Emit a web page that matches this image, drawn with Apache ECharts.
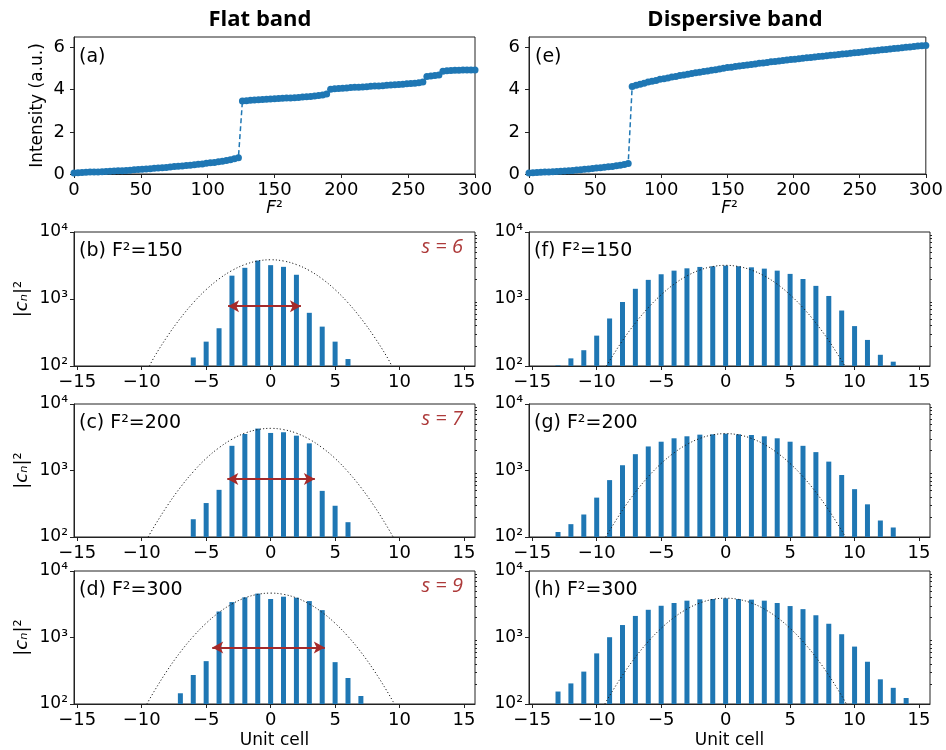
<!DOCTYPE html>
<html>
<head>
<meta charset="utf-8">
<script src="https://cdn.jsdelivr.net/npm/echarts@6/dist/echarts.min.js"></script>
<style>
html, body { margin: 0; padding: 0; background: #fff; }
#chart { width: 946px; height: 750px; }
</style>
</head>
<body>
<div id="chart"></div>
<script>
// ---- intensity vs F^2 (top row) ----
const f2 = [0,3,6,9,12,15,18,21,24,27,30,33,36,39,42,45,48,51,54,57,60,63,66,69,72,75,78,81,84,87,90,93,96,99,
  102,105,108,111,114,117,120,123,126,129,132,135,138,141,144,147,150,153,156,159,162,165,168,171,174,177,180,183,186,189,
  192,195,198,201,204,207,210,213,216,219,222,225,228,231,234,237,240,243,246,249,252,255,258,261,264,267,270,273,276,279,
  282,285,288,291,294,297,300];
const intensityFlat = [0.05,0.06,0.07,0.08,0.09,0.09,0.10,0.11,0.12,0.13,0.14,0.15,0.16,0.17,0.18,0.20,0.21,0.22,0.24,0.25,
  0.27,0.28,0.30,0.31,0.33,0.35,0.37,0.38,0.40,0.42,0.44,0.46,0.48,0.51,0.53,0.55,0.58,0.61,0.64,0.68,0.72,0.77,
  3.46,3.48,3.50,3.51,3.52,3.53,3.55,3.56,3.57,3.58,3.59,3.60,3.61,3.62,3.63,3.65,3.66,3.68,3.70,3.72,3.75,3.80,
  4.02,4.04,4.06,4.07,4.08,4.10,4.11,4.12,4.13,4.14,4.16,4.17,4.18,4.19,4.21,4.22,4.23,4.25,4.26,4.28,4.29,4.31,4.33,4.37,
  4.62,4.65,4.67,4.70,4.88,4.90,4.91,4.92,4.92,4.93,4.93,4.94,4.94];
const intensityDisp = [0.05,0.06,0.07,0.08,0.09,0.10,0.11,0.12,0.13,0.14,0.16,0.17,0.19,0.20,0.22,0.24,0.26,0.28,0.30,0.32,
  0.34,0.36,0.39,0.42,0.45,0.50,
  4.15,4.21,4.26,4.31,4.36,4.40,4.44,4.49,4.52,4.56,4.60,4.63,4.67,4.70,4.73,4.77,4.80,4.83,4.86,4.89,4.92,4.95,4.98,5.02,
  5.05,5.07,5.10,5.12,5.15,5.17,5.20,5.22,5.25,5.27,5.29,5.32,5.34,5.36,5.39,5.41,5.43,5.45,5.47,5.49,5.51,5.53,5.55,5.57,
  5.59,5.61,5.63,5.65,5.67,5.69,5.71,5.73,5.75,5.77,5.79,5.81,5.83,5.85,5.87,5.89,5.91,5.93,5.95,5.97,5.99,6.01,6.03,6.05,
  6.07,6.08,6.10];
const intensityTicks = [0, 2, 4, 6];

// ---- |c_n|^2 per unit cell ----
const cells13 = [-6,-5,-4,-3,-2,-1,0,1,2,3,4,5,6];
const cells15 = [-7,-6,-5,-4,-3,-2,-1,0,1,2,3,4,5,6,7];
const cells27 = [-13,-12,-11,-10,-9,-8,-7,-6,-5,-4,-3,-2,-1,0,1,2,3,4,5,6,7,8,9,10,11,12,13];
const cells28 = [-13,-12,-11,-10,-9,-8,-7,-6,-5,-4,-3,-2,-1,0,1,2,3,4,5,6,7,8,9,10,11,12,13,14];

const popB = [134,231,366,2230,2920,3750,3200,3020,2300,622,387,231,127];
const popC = [185,324,512,2350,3540,4270,3670,3760,3340,2560,494,295,167];
const popD = [145,273,441,2460,3410,4020,4570,3790,4110,3970,3530,2580,426,246,132];
const popF = [102,130,172,284,512,903,1420,1930,2340,2650,2870,3010,3080,3150,3080,2970,2840,2650,2370,1990,1570,1110,673,394,245,147,116];
const popG = [119,156,218,391,717,1200,1760,2300,2710,3050,3270,3460,3500,3580,3500,3420,3270,3050,2710,2350,1890,1360,855,524,310,177,139];
const popH = [154,204,307,577,1010,1540,2110,2610,3000,3300,3580,3750,3790,3880,3790,3710,3580,3300,2970,2670,2160,1610,1120,730,432,235,175,123];

// dotted envelope curves
const envXB = [-9.4,-9,-8,-7,-6,-5,-4,-3,-2,-1,0,1,2,3,4,5,6,7,8,9,9.4];
const envYB = [100,139,279,516,879,1380,1995,2660,3265,3690,3850,3690,3265,2660,1995,1380,879,516,279,139,100];
const envXC = [-9.5,-9,-8,-7,-6,-5,-4,-3,-2,-1,0,1,2,3,4,5,6,7,8,9,9.5];
const envYC = [100,147,298,557,957,1520,2200,2950,3640,4120,4300,4120,3640,2950,2200,1520,957,557,298,147,100];
const envXD = [-9.6,-9,-8,-7,-6,-5,-4,-3,-2,-1,0,1,2,3,4,5,6,7,8,9,9.6];
const envYD = [100,159,323,604,1037,1640,2385,3190,3935,4455,4650,4455,3935,3190,2385,1640,1037,604,323,159,100];
const envXF = [-9.25,-9,-8,-7,-6,-5,-4,-3,-2,-1,0,1,2,3,4,5,6,7,8,9,9.25];
const envYF = [100,120,239,438,741,1155,1665,2210,2705,3050,3180,3050,2705,2210,1665,1155,741,438,239,120,100];
const envXG = [-9.3,-9,-8,-7,-6,-5,-4,-3,-2,-1,0,1,2,3,4,5,6,7,8,9,9.3];
const envYG = [100,125,253,471,808,1273,1845,2466,3036,3436,3580,3436,3036,2466,1845,1273,808,471,253,125,100];
const envXH = [-9.37,-9,-8,-7,-6,-5,-4,-3,-2,-1,0,1,2,3,4,5,6,7,8,9,9.37];
const envYH = [100,133,270,505,869,1374,2000,2680,3303,3741,3900,3741,3303,2680,2000,1374,869,505,270,133,100];

// width arrows: [from, to, level]
const arrowB = [-3.3, 2.35, 780];
const arrowC = [-3.36, 3.43, 745];
const arrowD = [-4.53, 4.2, 705];

const logTicks = [100, 1000, 10000];
const logMinor = [200,300,400,500,600,700,800,900,2000,3000,4000,5000,6000,7000,8000,9000];
const cellTicks = [-15, -10, -5, 0, 5, 10, 15];

// ---- layout ----
const COL_X = [74, 529];
const COL_W = 401;
const ROW_TOP = [37, 232, 404, 571];
const ROW_H = [137, 134, 133, 133];
const FONT = 'DejaVu Sans';
const BLUE = '#1f77b4';
const RED = '#a52a2a';
const FRAME = '#222';

const grids = [], xAxes = [], yAxes = [], series = [];

const axisBase = () => ({
    axisLine: { show: true, onZero: false, lineStyle: { color: FRAME, width: 1 } },
    axisTick: { show: true, length: 4, lineStyle: { color: FRAME, width: 1 } },
    axisLabel: { color: '#000', fontFamily: FONT, fontSize: 18, margin: 7 },
    splitLine: { show: false }
});

function addGrid(col, row) {
    grids.push({
        left: COL_X[col], top: ROW_TOP[row], width: COL_W, height: ROW_H[row],
        show: true, borderColor: FRAME, borderWidth: 1
    });
    return grids.length - 1;
}

function intensityPanel(col, yVals) {
    const g = addGrid(col, 0);
    xAxes.push(Object.assign(axisBase(), { gridIndex: g, type: 'value', min: 0, max: 300, interval: 50 }));
    const y = axisBase();
    y.axisLabel.customValues = intensityTicks;
    y.axisLabel.margin = 9;
    y.axisTick.customValues = intensityTicks;
    yAxes.push(Object.assign(y, { gridIndex: g, type: 'value', min: 0, max: 6.5 }));
    series.push({
        type: 'line',
        xAxisIndex: xAxes.length - 1, yAxisIndex: yAxes.length - 1,
        data: f2.map((x, i) => [x, yVals[i]]),
        symbol: 'circle', symbolSize: 7,
        itemStyle: { color: BLUE },
        lineStyle: { color: BLUE, width: 1.5, type: [5, 3] },
        silent: true
    });
}

function cellPanel(col, row, cells, pop, envX, envY, arrow) {
    const g = addGrid(col, row);
    const x = axisBase();
    x.axisLabel.customValues = cellTicks;
    x.axisLabel.formatter = v => String(v).replace('-', '\u2212');
    x.axisTick.customValues = cellTicks;
    xAxes.push(Object.assign(x, { gridIndex: g, type: 'value', min: -15.25, max: 15.85 }));
    const xi = xAxes.length - 1;

    const y = axisBase();
    y.axisLabel.customValues = logTicks;
    y.axisLabel.fontSize = 17;
    y.axisLabel.margin = 6;
    y.axisLabel.formatter = v => ({ 100: '10\u00b2', 1000: '10\u00b3', 10000: '10\u2074' })[v] || '';
    y.axisTick.customValues = logTicks;
    yAxes.push(Object.assign(y, { gridIndex: g, type: 'log', logBase: 10, min: 100, max: 10000 }));
    const yi = yAxes.length - 1;

    // minor ticks of the log axis
    yAxes.push({
        gridIndex: g, type: 'log', logBase: 10, min: 100, max: 10000,
        axisLine: { show: false, onZero: false },
        axisLabel: { show: false },
        axisTick: { show: true, length: 2, customValues: logMinor, lineStyle: { color: FRAME } },
        splitLine: { show: false }
    });

    const bar = {
        type: 'bar', xAxisIndex: xi, yAxisIndex: yi,
        data: cells.map((n, i) => [n, pop[i]]),
        barWidth: 5, clip: true,
        itemStyle: { color: BLUE },
        silent: true
    };
    if (arrow) {
        bar.markLine = {
            silent: true, animation: false,
            symbol: ['arrow', 'arrow'], symbolSize: [9, 11],
            label: { show: false },
            lineStyle: { color: RED, width: 2, type: 'solid' },
            data: [[{ coord: [arrow[0], arrow[2]] }, { coord: [arrow[1], arrow[2]] }]]
        };
    }
    series.push(bar);
    series.push({
        type: 'line', xAxisIndex: xi, yAxisIndex: yi,
        data: envX.map((v, i) => [v, envY[i]]),
        showSymbol: false, smooth: 0.4, silent: true,
        lineStyle: { color: '#222', width: 1, type: [1.2, 2.2] }
    });
}

intensityPanel(0, intensityFlat);
intensityPanel(1, intensityDisp);
cellPanel(0, 1, cells13, popB, envXB, envYB, arrowB);
cellPanel(0, 2, cells13, popC, envXC, envYC, arrowC);
cellPanel(0, 3, cells15, popD, envXD, envYD, arrowD);
cellPanel(1, 1, cells27, popF, envXF, envYF, null);
cellPanel(1, 2, cells27, popG, envXG, envYG, null);
cellPanel(1, 3, cells28, popH, envXH, envYH, null);

// ---- texts ----
const texts = [];
function txt(x, y, text, style, rotation) {
    texts.push({
        type: 'text', x: x, y: y, rotation: rotation || 0, z: 100, silent: true,
        style: Object.assign({ text: text, fill: '#000', fontFamily: FONT, fontSize: 18, align: 'left', verticalAlign: 'middle' }, style)
    });
}

const colMid = c => COL_X[c] + COL_W / 2;
const rowMid = r => ROW_TOP[r] + ROW_H[r] / 2;

txt(260, 20, 'Flat band', { fontFamily: 'Open Sans', fontWeight: 'bold', fontSize: 22, align: 'center' });
txt(735, 20, 'Dispersive band', { fontFamily: 'Open Sans', fontWeight: 'bold', fontSize: 22, align: 'center' });

txt(79, 57, '(a)', { fontSize: 19 });
txt(535, 57, '(e)', { fontSize: 19 });
const panelTags = [['(b) F\u00b2=150', '(c) F\u00b2=200', '(d) F\u00b2=300'], ['(f) F\u00b2=150', '(g) F\u00b2=200', '(h) F\u00b2=300']];
const sizeTags = ['s = 6', 's = 7', 's = 9'];
[0, 1].forEach(c => {
    panelTags[c].forEach((t, k) => txt(COL_X[c] + 5, ROW_TOP[k + 1] + 19, t, { fontSize: 19 }));
    txt(colMid(c), 209, '{i|F}\u00b2', { align: 'center', fontSize: 17, rich: { i: { fontStyle: 'italic', fontFamily: FONT, fontSize: 17 } } });
    txt(colMid(c), 741, 'Unit cell', { align: 'center', fontSize: 17 });
});
sizeTags.forEach((t, k) => txt(463, ROW_TOP[k + 1] + 15, t, { fontFamily: 'Open Sans', fontStyle: 'italic', fontSize: 20, fill: '#ad3a3a', align: 'right' }));

txt(38, rowMid(0), 'Intensity (a.u.)', { align: 'center', fontSize: 17 }, Math.PI / 2);
[1, 2, 3].forEach(r => txt(22, rowMid(r), '|{i|c}{n|\u2099}|\u00b2', {
    align: 'center', fontSize: 18,
    rich: { i: { fontStyle: 'italic', fontFamily: FONT, fontSize: 18 }, n: { fontStyle: 'italic', fontFamily: FONT, fontSize: 18 } }
}, Math.PI / 2));

const chart = echarts.init(document.getElementById('chart'));
chart.setOption({
    animation: false,
    backgroundColor: '#fff',
    grid: grids,
    xAxis: xAxes,
    yAxis: yAxes,
    series: series,
    graphic: texts
});
</script>
</body>
</html>
